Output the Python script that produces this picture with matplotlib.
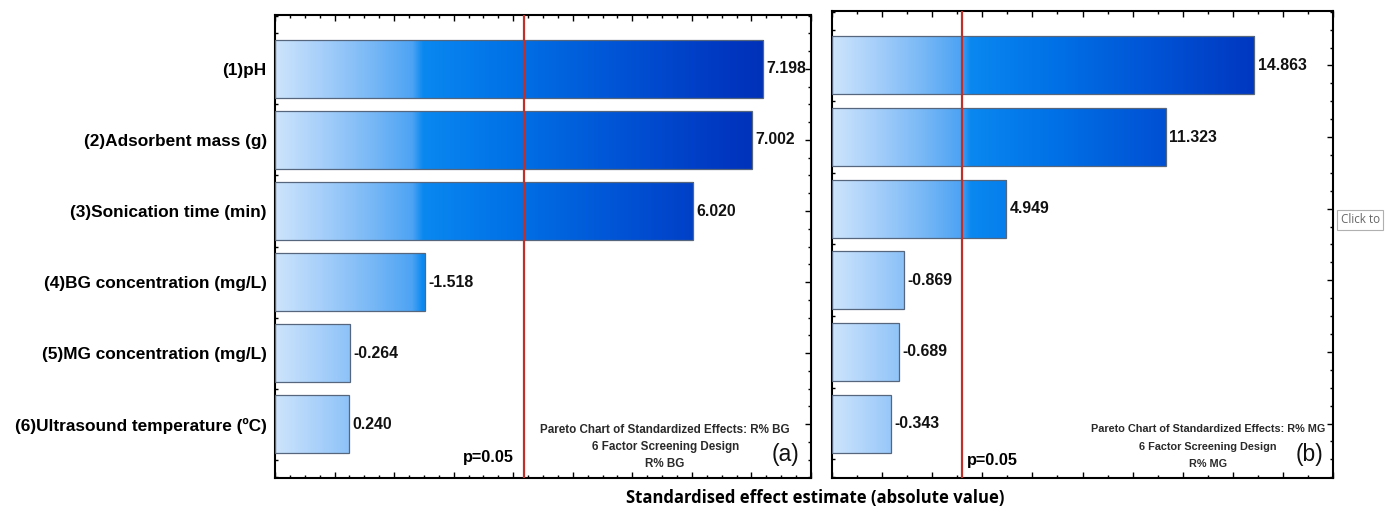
import numpy as np
import matplotlib
matplotlib.use("Agg")
import matplotlib.pyplot as plt
from matplotlib.colors import LinearSegmentedColormap
from matplotlib.ticker import MultipleLocator

plt.rcParams['font.family'] = ['Liberation Sans', 'DejaVu Sans']

factors = ['(1)pH', '(2)Adsorbent mass (g)', '(3)Sonication time (min)',
           '(4)BG concentration (mg/L)', '(5)MG concentration (mg/L)',
           '(6)Ultrasound temperature (ºC)']
effects_bg = [7.198, 7.002, 6.020, -1.518, -0.264, 0.240]
effects_mg = [14.863, 11.323, 4.949, -0.869, -0.689, -0.343]
p_line = 3.182

# blue ramp used along the x axis of each panel
blues = LinearSegmentedColormap.from_list('blues', [
    (0.00, '#cde4fc'), (0.09, '#a4cefa'), (0.18, '#78b8f6'),
    (0.255, '#4da3f4'), (0.275, '#0a88f0'), (0.45, '#0070e6'),
    (0.65, '#0052d4'), (0.85, '#0036c0'), (1.00, '#002aae')])


def pareto(ax, effects, xmin, xmax, major, minor, name, letter, show_labels, p_left,
           note_x, note_size):
    ypos = np.arange(len(effects))
    vals = np.abs(effects)
    ax.set_xlim(xmin, xmax)
    ax.set_ylim(len(effects) - 0.24, -0.76)
    bars = ax.barh(ypos, vals - xmin, left=xmin, height=0.81,
                   facecolor='none', edgecolor='#56667c', linewidth=0.9, zorder=3)
    grad = np.linspace(0, 1, 256).reshape(1, -1)
    for b in bars:
        im = ax.imshow(grad, cmap=blues, aspect='auto', zorder=2,
                       extent=(xmin, xmax, len(effects), -1), interpolation='bilinear')
        im.set_clip_path(b)
    for y, v, raw in zip(ypos, vals, effects):
        ax.annotate(f'{raw:.3f}', (v, y), xytext=(2.5, 0), textcoords='offset points',
                    ha='left', va='center', fontsize=11.4, fontweight='bold', color='#111111')
    ax.axvline(p_line, color='#c0302a', linewidth=1.6, zorder=4)
    if p_left:
        ax.annotate('p=0.05', (p_line, 5.47), xytext=(-7, 0), textcoords='offset points',
                    ha='right', va='center', fontsize=11.7, fontweight='bold')
    else:
        ax.annotate('p=0.05', (p_line, 5.52), xytext=(4, 0), textcoords='offset points',
                    ha='left', va='center', fontsize=11.7, fontweight='bold')
    lines = [f'Pareto Chart of Standardized Effects: R% {name}',
             '6 Factor Screening Design', f'R% {name}']
    for txt, yy in zip(lines, [0.104, 0.067, 0.031]):
        ax.text(note_x, yy, txt, transform=ax.transAxes, ha='center', va='center',
                fontsize=note_size, fontweight='bold', color='#2a2a2a')
    ax.text(0.952, 0.05, letter, transform=ax.transAxes, ha='center', va='center',
            fontsize=16.5, color='#111111')

    ax.set_yticks(ypos)
    if show_labels:
        ax.set_yticklabels(factors, fontsize=12.4, fontweight='bold')
    else:
        ax.set_yticklabels([])
    ax.yaxis.set_minor_locator(MultipleLocator(0.25))
    ax.xaxis.set_major_locator(MultipleLocator(major))
    ax.xaxis.set_minor_locator(MultipleLocator(minor))
    ax.set_xticklabels([])
    ax.tick_params(which='both', direction='in', top=True, right=True, width=1.0, pad=6)
    ax.tick_params(which='major', length=4.5)
    ax.tick_params(which='minor', length=2.5)
    for s in ax.spines.values():
        s.set_linewidth(1.5)


fig = plt.figure(figsize=(13.86, 5.11), dpi=100)
ax1 = fig.add_axes([0.1984, 0.0646, 0.3867, 0.906])
ax2 = fig.add_axes([0.6003, 0.0646, 0.3615, 0.9139])

pareto(ax1, effects_bg, -1, 8, 1, 0.25, 'BG', '(a)', True, True, 0.728, 8.4)
pareto(ax2, effects_mg, -2, 18, 2, 1, 'MG', '(b)', False, False, 0.75, 7.8)

fig.text(0.588, 0.025, 'Standardised effect estimate (absolute value)',
         ha='center', va='center', fontsize=12, fontweight='bold',
         family=['Open Sans', 'DejaVu Sans'])

fig.text(0.9672, 0.5695, 'Click to', ha='left', va='center', fontsize=8.4, color='#666666',
         family=['Open Sans', 'DejaVu Sans'],
         bbox=dict(boxstyle='square,pad=0.3', facecolor='white', edgecolor='#b0b0b0', linewidth=0.8))

fig.savefig('out.png', dpi=100)
